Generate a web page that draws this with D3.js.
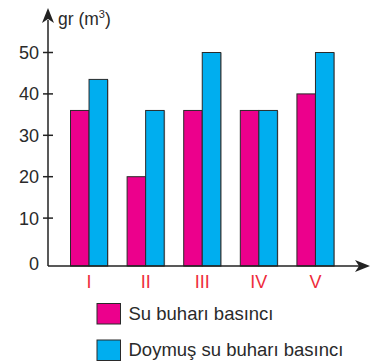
<!DOCTYPE html>
<html lang="tr">
<head>
  <meta charset="utf-8">
  <title>Su buharı basıncı</title>
  <script src="https://cdn.jsdelivr.net/npm/d3@7"></script>
  <style>
    body { margin: 0; background: #fff; }
    text { font-family: "Liberation Sans", Arial, sans-serif; }
  </style>
</head>
<body>
  <svg width="370" height="363"></svg>
  <script>
    const categories = ["I", "II", "III", "IV", "V"];
    const suBuhari = [36, 20, 36, 36, 40];
    const doymus = [43.5, 36, 50, 36, 50];
    const yTicks = [10, 20, 30, 40, 50];
    const seriesNames = ["Su buharı basıncı", "Doymuş su buharı basıncı"];
    const colors = ["#EC008C", "#00AEEF"];

    const svg = d3.select("svg");
    const axisX = 48, baseY = 266;

    const x = d3.scaleBand().domain(categories).range([70.5, 334]).paddingInner(0.345).paddingOuter(0);
    const xs = d3.scaleBand().domain([0, 1]).range([0, x.bandwidth()]);
    const y = d3.scaleLinear().domain([0, 50]).range([259.5, 52.5]);

    const series = [suBuhari, doymus];
    const bars = [];
    series.forEach((vals, s) => vals.forEach((v, i) => bars.push({ cat: categories[i], s: s, v: v })));

    // shadow
    svg.append("g").selectAll("rect")
      .data(bars).enter().append("rect")
      .attr("x", d => x(d.cat) + xs(d.s) + 1)
      .attr("y", d => y(d.v) + 0.5)
      .attr("width", xs.bandwidth())
      .attr("height", d => baseY - y(d.v))
      .attr("fill", "#bbb");

    svg.append("g").selectAll("rect")
      .data(bars).enter().append("rect")
      .attr("x", d => x(d.cat) + xs(d.s))
      .attr("y", d => y(d.v))
      .attr("width", xs.bandwidth())
      .attr("height", d => baseY - y(d.v))
      .attr("fill", d => colors[d.s])
      .attr("stroke", "#2a2a2a")
      .attr("stroke-width", 1);

    // axes
    svg.append("line").attr("x1", axisX).attr("x2", axisX).attr("y1", baseY).attr("y2", 20)
      .attr("stroke", "#222").attr("stroke-width", 1.5);
    svg.append("path").attr("d", `M${axisX},8 L${axisX - 6},23 L${axisX},19 L${axisX + 6},23 Z`).attr("fill", "#222");
    svg.append("line").attr("x1", axisX).attr("x2", 360).attr("y1", baseY).attr("y2", baseY)
      .attr("stroke", "#222").attr("stroke-width", 1.5);
    svg.append("path").attr("d", `M370,${baseY} L355,${baseY - 6} L359,${baseY} L355,${baseY + 6} Z`).attr("fill", "#222");

    const yAxis = svg.append("g");
    yAxis.selectAll("line").data(yTicks).enter().append("line")
      .attr("x1", axisX - 5).attr("x2", axisX + 5)
      .attr("y1", d => y(d)).attr("y2", d => y(d))
      .attr("stroke", "#222").attr("stroke-width", 1.5);
    yAxis.selectAll("text").data(yTicks).enter().append("text")
      .attr("x", 39).attr("y", d => y(d) + 6.5)
      .attr("text-anchor", "end").attr("font-size", 18).attr("fill", "#2a2a2a")
      .text(d => d);
    svg.append("text").attr("x", 39).attr("y", 269.5).attr("text-anchor", "end")
      .attr("font-size", 18).attr("fill", "#2a2a2a").text("0");

    const title = svg.append("text").attr("x", 58).attr("y", 25).attr("font-size", 17.5).attr("fill", "#2a2a2a");
    title.append("tspan").text("gr (m");
    title.append("tspan").attr("font-size", 11).attr("dy", -7).text("3");
    title.append("tspan").attr("dy", 7).text(")");

    svg.append("g").selectAll("text").data(categories).enter().append("text")
      .attr("x", d => x(d) + x.bandwidth() / 2)
      .attr("y", 288)
      .attr("text-anchor", "middle").attr("font-size", 18).attr("fill", "#EE2B3B")
      .text(d => d);

    const legend = svg.append("g").selectAll("g").data(seriesNames).enter().append("g")
      .attr("transform", (d, i) => `translate(97,${303.5 + i * 36.5})`);
    legend.append("rect").attr("width", 23.5).attr("height", 20.5)
      .attr("fill", (d, i) => colors[i]).attr("stroke", "#2a2a2a").attr("stroke-width", 1);
    legend.append("text").attr("x", 31.5).attr("y", 16).attr("font-size", 18.5).attr("fill", "#2a2a2a")
      .text(d => d);
  </script>
</body>
</html>
